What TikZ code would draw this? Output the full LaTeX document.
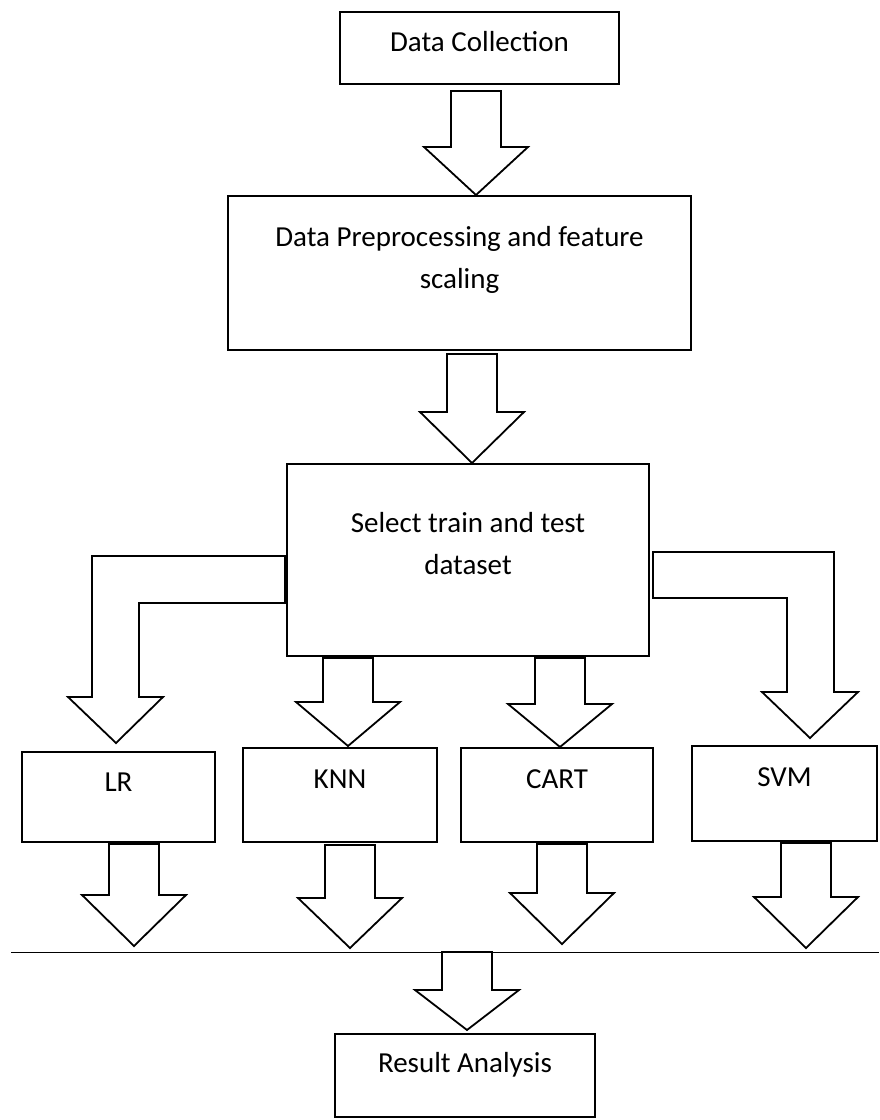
\documentclass[tikz,border=0pt]{standalone}
\usepackage{fontspec}
\setmainfont{Carlito}
\usetikzlibrary{calc}

% hollow block arrow: x of shaft, top point, tip point, head height
\newcommand{\blkdown}[4]{%
  \draw[blk] let \p1=(#1,0), \p2=(#2), \p3=(#3) in
    (\x1-25pt,\y2) -- (\x1-25pt,\y3+#4pt) -- (\x1-52pt,\y3+#4pt) -- (\x1,\y3)
    -- (\x1+52pt,\y3+#4pt) -- (\x1+25pt,\y3+#4pt) -- (\x1+25pt,\y2) -- cycle;}

\begin{document}
\begin{tikzpicture}[x=1pt,y=-1pt,line join=miter,
    blk/.style={draw=black,line width=1.8pt,fill=white}]
\useasboundingbox (0,0) rectangle (879,1120);

\begin{scope}[every node/.style={draw,line width=2pt,inner sep=0pt}]
  \node[minimum width=279pt,minimum height=72pt] (collect) at (479.5,48) {};
  \node[minimum width=463pt,minimum height=154pt] (preproc) at (459.5,273) {};
  \node[minimum width=362pt,minimum height=192pt] (split) at (468,560) {};
  \node[minimum width=193pt,minimum height=90pt] (lr) at (118.5,797) {};
  \node[minimum width=194pt,minimum height=94pt] (knn) at (340,795) {};
  \node[minimum width=192pt,minimum height=94pt] (cart) at (557,795) {};
  \node[minimum width=185pt,minimum height=95pt] (svm) at (784.5,793.5) {};
  \node[minimum width=260pt,minimum height=83pt] (result) at (465,1075.5) {};
\end{scope}

% base of a two-line text is its last line
\begin{scope}[every node/.style={font=\fontsize{29}{42}\selectfont,inner sep=0pt,anchor=base,align=center}]
  \node (collectTxt) at ([yshift=-40pt]collect.north) {Data Collection};
  \node (preprocTxt) at ([yshift=-93pt]preproc.north) {Data Preprocessing and feature\\scaling};
  \node (splitTxt) at ([yshift=-111pt]split.north) {Select train and test\\dataset};
  \node (lrTxt) at ([yshift=-40pt]lr.north) {LR};
  \node (knnTxt) at ([yshift=-41pt]knn.north) {KNN};
  \node (cartTxt) at ([yshift=-41pt]cart.north) {CART};
  \node (svmTxt) at ([yshift=-41pt]svm.north) {SVM};
  \node (resultTxt) at ([yshift=-39pt]result.north) {Result Analysis};
\end{scope}

% collecting line
\coordinate (barL) at (11,952);
\coordinate (barR) at (879,952);
\draw[line width=1pt] (barL) -- (barR);

\blkdown{476}{[yshift=-6pt]collect.south}{preproc.north}{48}
\blkdown{472}{[yshift=-3pt]preproc.south}{split.north}{51}
\blkdown{348}{[yshift=-1pt]split.south}{[yshift=1pt]knn.north}{44}
\blkdown{560}{[yshift=-1pt]split.south}{cart.north}{43}
\blkdown{134}{[yshift=-1pt]lr.south}{[yshift=6pt]barL}{51}
\blkdown{350}{[yshift=-2pt]knn.south}{[yshift=4pt]barL}{50}
\blkdown{562}{[yshift=-1pt]cart.south}{[yshift=8pt]barL}{51}
\blkdown{806}{[yshift=-1pt]svm.south}{[yshift=4pt]barL}{51}
\blkdown{467}{barL}{[yshift=3pt]result.north}{40}

% bent arrows out of the split box
\draw[blk] let \p1=(split.west) in
  (\x1-1pt,-556pt) -- (92,556) -- (92,697) -- (68,697) -- (116,743)
  -- (163,697) -- (139,697) -- (139,603) -- (\x1-1pt,-603pt) -- cycle;
\draw[blk] let \p1=(split.east) in
  (\x1+3pt,-552pt) -- (834,552) -- (834,692) -- (858,692) -- (810,738)
  -- (762,692) -- (787,692) -- (787,598) -- (\x1+3pt,-598pt) -- cycle;
\end{tikzpicture}
\end{document}
